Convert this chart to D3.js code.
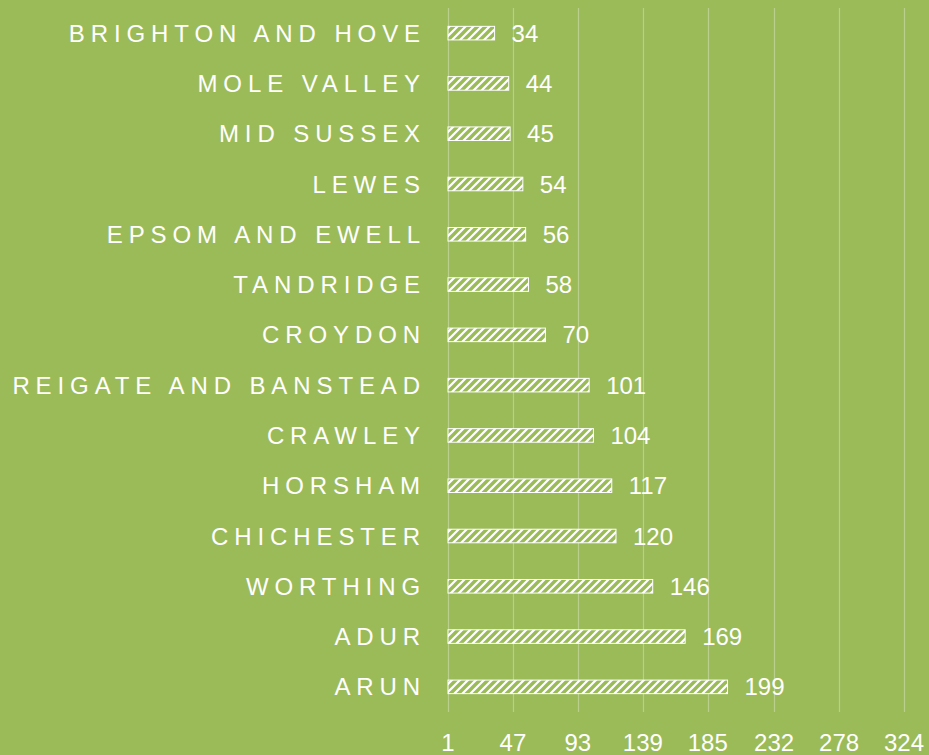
<!DOCTYPE html>
<html>
<head>
<meta charset="utf-8">
<script src="https://cdn.jsdelivr.net/npm/d3@7.9.0/dist/d3.min.js"></script>
<style>
  html, body { margin: 0; padding: 0; background: #9bbb59; }
  svg { display: block; font-family: Arial, "Liberation Sans", sans-serif; }
</style>
</head>
<body>
<svg id="chart" width="929" height="755"></svg>
<script>
// data, top to bottom
const areas = ['BRIGHTON AND HOVE', 'MOLE VALLEY', 'MID SUSSEX', 'LEWES', 'EPSOM AND EWELL',
  'TANDRIDGE', 'CROYDON', 'REIGATE AND BANSTEAD', 'CRAWLEY', 'HORSHAM', 'CHICHESTER',
  'WORTHING', 'ADUR', 'ARUN'];
const counts = [34, 44, 45, 54, 56, 58, 70, 101, 104, 117, 120, 146, 169, 199];
const tickLabels = [1, 47, 93, 139, 185, 232, 278, 324];

const data = areas.map((a, i) => ({ area: a, value: counts[i] }));

const svg = d3.select('#chart');
const green = '#9bbb59';

// hatch pattern (wide upward diagonal)
const defs = svg.append('defs');
const pat = defs.append('pattern')
  .attr('id', 'hatch')
  .attr('patternUnits', 'userSpaceOnUse')
  .attr('width', 8).attr('height', 8);
pat.append('rect').attr('width', 8).attr('height', 8).attr('fill', '#fff');
pat.append('path')
  .attr('d', 'M-2,2 L2,-2 M0,8 L8,0 M6,10 L10,6')
  .attr('stroke', green)
  .attr('stroke-width', 3.4);

const x = d3.scaleLinear().domain([1, 324]).range([448, 904]);
const y = d3.scaleBand().domain(areas).range([8, 712]).paddingInner(0.73).paddingOuter(0.365);

// gridlines
svg.append('g')
  .selectAll('line')
  .data(tickLabels)
  .join('line')
  .attr('x1', d => Math.round(x(d)) + 0.5)
  .attr('x2', d => Math.round(x(d)) + 0.5)
  .attr('y1', 8).attr('y2', 712)
  .attr('stroke', '#fff')
  .attr('stroke-opacity', 0.3)
  .attr('stroke-width', 1.2);

// bars
svg.append('g')
  .selectAll('rect')
  .data(data)
  .join('rect')
  .attr('x', x(1))
  .attr('y', d => y(d.area))
  .attr('width', d => x(d.value) - x(1))
  .attr('height', y.bandwidth())
  .attr('fill', 'url(#hatch)')
  .attr('stroke', '#fff')
  .attr('stroke-width', 1);

// value labels
svg.append('g')
  .selectAll('text')
  .data(data)
  .join('text')
  .attr('x', d => x(d.value) + 17)
  .attr('y', d => y(d.area) + y.bandwidth() / 2)
  .attr('dy', '0.36em')
  .attr('fill', '#fff')
  .attr('font-size', 24)
  .text(d => d.value);

// category labels
svg.append('g')
  .selectAll('text')
  .data(data)
  .join('text')
  .attr('x', 426)
  .attr('y', d => y(d.area) + y.bandwidth() / 2)
  .attr('dy', '0.36em')
  .attr('text-anchor', 'end')
  .attr('fill', '#fff')
  .attr('font-size', 24)
  .attr('letter-spacing', '5.9px')
  .text(d => d.area);

// x axis tick labels
svg.append('g')
  .selectAll('text')
  .data(tickLabels)
  .join('text')
  .attr('x', d => x(d))
  .attr('y', 751)
  .attr('text-anchor', 'middle')
  .attr('fill', '#fff')
  .attr('font-size', 24)
  .text(d => d);
</script>
</body>
</html>
